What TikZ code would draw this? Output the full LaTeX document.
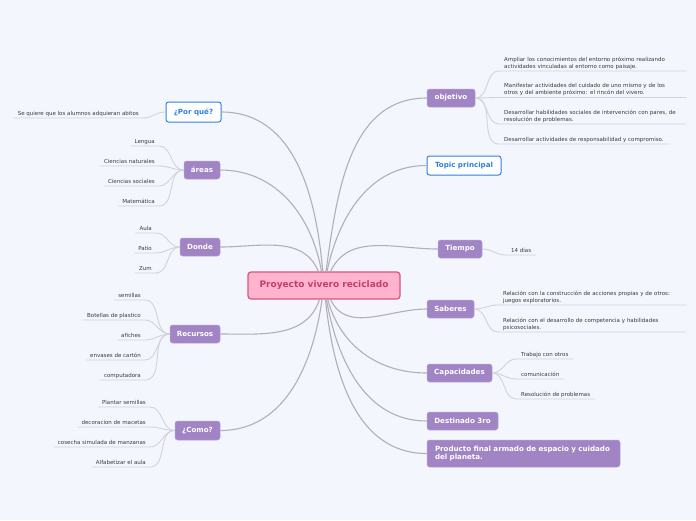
\documentclass[tikz,border=0pt]{standalone}
\usepackage{fontspec}
\setmainfont{DejaVu Sans}
\definecolor{bgc}{HTML}{F3F6FD}
\definecolor{purp}{HTML}{A184C4}
\definecolor{purpb}{HTML}{B9A2D8}
\definecolor{bluec}{HTML}{2F7FE0}
\definecolor{pinkf}{HTML}{FFB3CD}
\definecolor{pinkb}{HTML}{D4567F}
\definecolor{pinkt}{HTML}{C23E6E}
\definecolor{mainline}{HTML}{B0B0B8}
\definecolor{leafc}{HTML}{D0D3DB}
\definecolor{leaftext}{HTML}{3A3A3A}
\tikzset{
  rootbox/.style={draw=pinkb, fill=pinkf, line width=1.2pt, rounded corners=3pt,
    minimum width=152pt, minimum height=27pt, text=pinkt,
    font=\fontsize{9}{10.5}\selectfont\bfseries},
  purpbox/.style={draw=purpb, fill=purp, line width=0.5pt, rounded corners=2.5pt,
    text=white, font=\fontsize{7.1}{9}\selectfont\bfseries, inner sep=0pt},
  bluebox/.style={draw=bluec, fill=white, line width=1pt, rounded corners=2.5pt,
    text=bluec, font=\fontsize{7.1}{9}\selectfont\bfseries, inner sep=0pt},
  leafl/.style={anchor=south east, font=\fontsize{5.5}{6.9}\selectfont, text=leaftext,
    inner xsep=4pt, inner ysep=1.5pt, text height=4.2pt, text depth=1.3pt},
  leafr/.style={anchor=south west, font=\fontsize{5.5}{6.9}\selectfont, text=leaftext,
    inner xsep=5pt, inner ysep=1.5pt, text height=4.2pt, text depth=1.3pt},
  leafm/.style={anchor=south west, font=\fontsize{5.5}{6.9}\selectfont, text=leaftext,
    inner xsep=5pt, inner ysep=1.5pt, align=left},
  mainc/.style={draw=mainline, line width=1.1pt},
  leafc/.style={draw=leafc, line width=0.9pt},
}
\begin{document}
\begin{tikzpicture}
\fill[bgc] (0,0) rectangle (696pt,-520pt);
\useasboundingbox (0,0) rectangle (696pt,-520pt);
\begin{scope}[x=1pt,y=1pt]
% root
\node[rootbox] (c) at (324,-285.5) {Proyecto vivero reciclado};
% left main nodes
\node[bluebox, minimum width=55pt, minimum height=20pt] (por) at (193.5,-112) {¿Por qué?};
\node[purpbox, minimum width=36pt, minimum height=18pt] (are) at (202,-170) {áreas};
\node[purpbox, minimum width=40pt, minimum height=18pt] (don) at (200,-247) {Donde};
\node[purpbox, minimum width=50pt, minimum height=18pt] (rec) at (195,-334) {Recursos};
\node[purpbox, minimum width=45pt, minimum height=19pt] (com) at (197.5,-430.5) {¿Como?};
% right main nodes
\node[purpbox, minimum width=48pt, minimum height=18pt] (obj) at (451,-98) {objetivo};
\node[bluebox, minimum width=74pt, minimum height=19pt] (top) at (464,-165.5) {Topic principal};
\node[purpbox, minimum width=44pt, minimum height=18pt] (tie) at (460,-249) {Tiempo};
\node[purpbox, minimum width=47pt, minimum height=18pt] (sab) at (450.5,-309) {Saberes};
\node[purpbox, minimum width=65pt, minimum height=18pt] (cap) at (459.5,-373) {Capacidades};
\node[purpbox, minimum width=71pt, minimum height=18pt] (des) at (462.5,-421) {Destinado 3ro};
\node[purpbox, minimum width=193pt, minimum height=27pt, text width=177pt, align=left, inner xsep=8pt,
  font=\fontsize{7.1}{8.8}\selectfont\bfseries] (pro) at (523.5,-453.5) {Producto final armado de espacio y cuidado\\del planeta.};

% main connectors
\draw[mainc] (c) to[out=95,in=0] (por.east);
\draw[mainc] (c) to[out=100,in=0] (are.east);
\draw[mainc] (c) to[out=112,in=0] (don.east);
\draw[mainc] (c) to[out=252,in=0] (rec.east);
\draw[mainc] (c) to[out=262,in=0] (com.east);
\draw[mainc] (c) to[out=82,in=180] (obj.west);
\draw[mainc] (c) to[out=78,in=180] (top.west);
\draw[mainc] (c) to[out=65,in=180] (tie.west);
\draw[mainc] (c) to[out=-65,in=180] (sab.west);
\draw[mainc] (c) to[out=-75,in=180] (cap.west);
\draw[mainc] (c) to[out=-80,in=180] (des.west);
\draw[mainc] (c) to[out=-84,in=180] (pro.west);

% left leaves
\node[leafl] (p1) at (143,-118) {Se quiere que los alumnos adquieran abitos};
\node[leafl] (a1) at (159,-146) {Lengua};
\node[leafl] (a2) at (159,-166) {Ciencias naturales};
\node[leafl] (a3) at (159,-186) {Ciencias sociales};
\node[leafl] (a4) at (159,-206) {Matemática};
\node[leafl] (d1) at (156,-233) {Aula};
\node[leafl] (d2) at (156,-253) {Patio};
\node[leafl] (d3) at (156,-273) {Zum};
\node[leafl] (r1) at (145,-300) {semillas};
\node[leafl] (r2) at (145,-320) {Botellas de plastico};
\node[leafl] (r3) at (145,-340) {afiches};
\node[leafl] (r4) at (145,-360) {envases de cartón};
\node[leafl] (r5) at (145,-380) {computadora};
\node[leafl] (c1) at (150,-407) {Plantar semillas};
\node[leafl] (c2) at (150,-427) {decoracion de macetas};
\node[leafl] (c3) at (150,-447) {cosecha simulada de manzanas};
\node[leafl] (c4) at (150,-467) {Alfabetizar el aula};
\foreach \p/\l in {por/p1, are/a1, are/a2, are/a3, are/a4, don/d1, don/d2, don/d3,
  rec/r1, rec/r2, rec/r3, rec/r4, rec/r5, com/c1, com/c2, com/c3, com/c4}
  \draw[leafc] (\p.west) to[out=180,in=0] (\l.south east) -- (\l.south west);

% right leaves
\node[leafm, text width=177pt] (o1) at (499,-71) {Ampliar los conocimientos del entorno próximo realizando\\actividades vinculadas al entorno como paisaje.};
\node[leafm, text width=177pt] (o2) at (499,-97.5) {Manifestar actividades del cuidado de uno mismo y de los\\otros y del ambiente próximo: el rincón del vivero.};
\node[leafm, text width=177pt] (o3) at (499,-124) {Desarrollar habilidades sociales de intervención con pares, de\\resolución de problemas.};
\node[leafr] (o4) at (499,-144) {Desarrollar actividades de responsabilidad y compromiso.};
\node[leafr] (t1) at (506,-255) {14 días};
\node[leafm, text width=178pt] (s1) at (498,-305) {Relación con la construcción de acciones propias y de otros:\\juegos exploratorios.};
\node[leafm, text width=178pt] (s2) at (498,-332) {Relación con el desarrollo de competencia y habilidades\\psicosociales.};
\node[leafr] (k1) at (516,-359) {Trabajo con otros};
\node[leafr] (k2) at (516,-379) {comunicación};
\node[leafr] (k3) at (516,-399) {Resolución de problemas};
\foreach \p/\l in {obj/o1, obj/o2, obj/o3, obj/o4, tie/t1, sab/s1, sab/s2, cap/k1, cap/k2, cap/k3}
  \draw[leafc] (\p.east) to[out=0,in=180] (\l.south west) -- (\l.south east);
\end{scope}
\end{tikzpicture}
\end{document}
